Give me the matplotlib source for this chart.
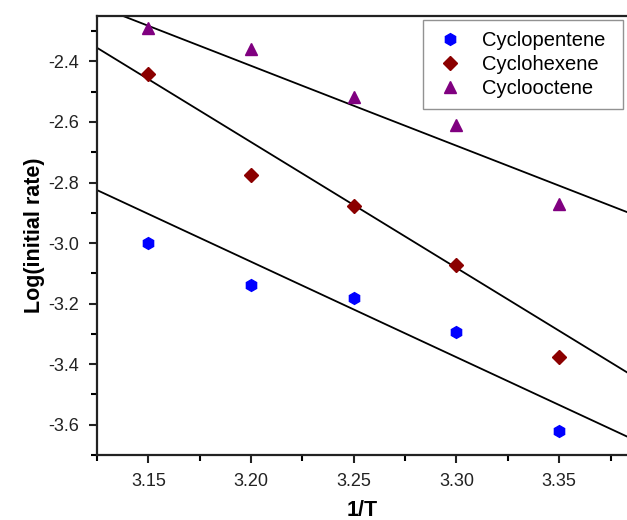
import numpy as np
import matplotlib
matplotlib.use("Agg")
import matplotlib.pyplot as plt
from matplotlib.ticker import MultipleLocator

plt.rcParams["font.family"] = ["Liberation Sans", "DejaVu Sans"]

# data
inv_t = [3.15, 3.20, 3.25, 3.30, 3.35]
cyclopentene = [-3.00, -3.14, -3.18, -3.295, -3.62]
cyclohexene = [-2.44, -2.775, -2.878, -3.073, -3.375]
cyclooctene = [-2.29, -2.36, -2.517, -2.61, -2.872]

# fitted lines (value at x = 3.125, slope) as drawn in the figure
fit_x = [3.125, 3.383]
fit_start = [-2.825, -2.355, -2.2165]
fit_slope = [-3.155, -4.155, -2.64]

series = [
    ("Cyclopentene", cyclopentene, "h", "#0000ff", 8.5),
    ("Cyclohexene", cyclohexene, "D", "#8b0000", 7),
    ("Cyclooctene", cyclooctene, "^", "#800080", 8),
]

fig = plt.figure(figsize=(6.27, 5.2), dpi=100)
ax = fig.add_axes([97 / 627, 65 / 520, 530 / 627, 439 / 520])

for (name, vals, mk, col, ms) in series:
    ax.plot(inv_t, vals, linestyle="none", marker=mk, color=col,
            markersize=ms, label=name, zorder=3)

for y0, m in zip(fit_start, fit_slope):
    xs = np.array(fit_x)
    ax.plot(xs, y0 + m * (xs - fit_x[0]), color="black", linewidth=1.3,
            zorder=2)

ax.set_xlim(3.125, 3.383)
ax.set_ylim(-3.70, -2.25)
ax.xaxis.set_major_locator(MultipleLocator(0.05))
ax.xaxis.set_minor_locator(MultipleLocator(0.025))
ax.yaxis.set_major_locator(MultipleLocator(0.2))
ax.yaxis.set_minor_locator(MultipleLocator(0.1))
ax.xaxis.set_major_formatter(plt.FormatStrFormatter("%.2f"))
ax.yaxis.set_major_formatter(plt.FormatStrFormatter("%.1f"))

ax.tick_params(which="major", direction="out", length=6, width=1.5,
               labelsize=13, colors="#222222", pad=7)
ax.tick_params(which="minor", direction="out", length=4, width=1.5)
ax.spines["right"].set_visible(False)
for s in ["left", "bottom", "top"]:
    ax.spines[s].set_linewidth(1.6)
    ax.spines[s].set_color("#222222")

ax.set_xlabel("1/T", fontsize=15.5, fontweight="bold", labelpad=7)
ax.set_ylabel("Log(initial rate)", fontsize=15.5, fontweight="bold",
              labelpad=2)

# legend box stretched to the width seen in the reference
leg = ax.legend(loc="upper left", bbox_to_anchor=(0.615, 0.991 - 0.2, 0.377, 0.2),
                mode="expand", borderaxespad=0, fontsize=14.5, frameon=True,
                fancybox=False, edgecolor="#777777", handletextpad=0.8,
                borderpad=0.55, labelspacing=0.25, handlelength=1.6)
leg.get_frame().set_linewidth(1.0)

fig.savefig("out.png", dpi=100)
